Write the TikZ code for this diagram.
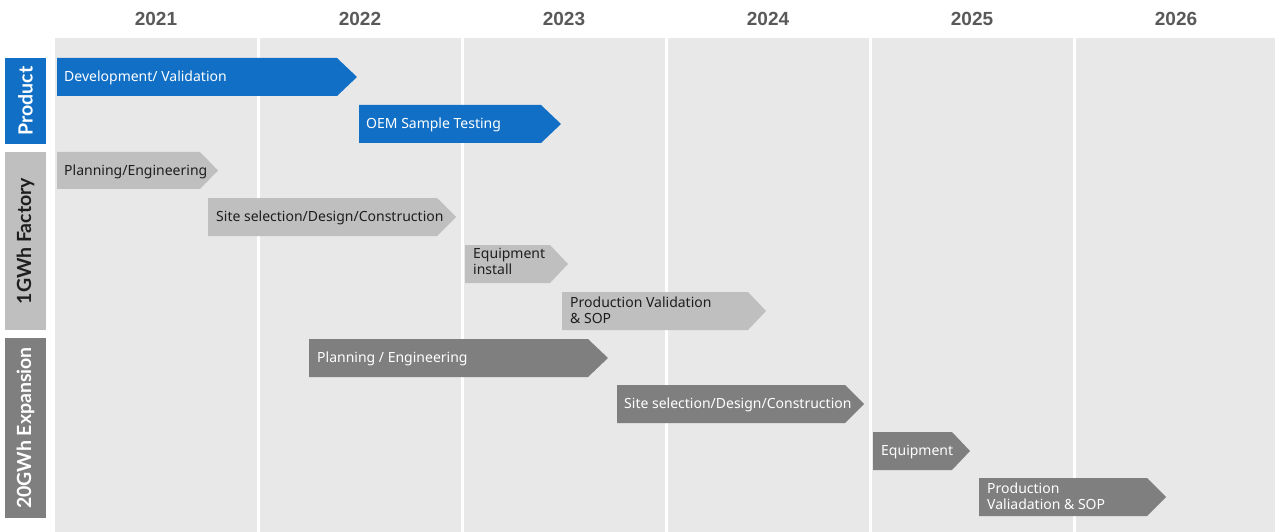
\documentclass[tikz,border=0pt]{standalone}
\usepackage{fontspec}
\setmainfont{Noto Sans}
\newfontfamily\yearfont{Liberation Sans}
\newfontfamily\rowfont{Lato}
\usetikzlibrary{positioning}

\definecolor{planblue}{HTML}{1170C6}
\definecolor{planlight}{HTML}{BFBFBF}
\definecolor{plandark}{HTML}{7F7F7F}
\definecolor{gridbg}{HTML}{E8E8E8}
\definecolor{yeargray}{HTML}{595959}
\definecolor{inkdark}{HTML}{1E1E1E}

\begin{document}
\begin{tikzpicture}[x=1pt, y=-1pt,
	year/.style={font=\yearfont\bfseries\fontsize{19}{19}\selectfont, text=yeargray},
	rowlabel/.style={rotate=90, minimum height=41pt, inner sep=0pt,
		font=\rowfont\bfseries\fontsize{19.5}{19.5}\selectfont},
	bartext/.style={anchor=west, inner sep=0pt, align=left,
		font=\fontsize{14}{16}\selectfont}]
	\useasboundingbox (0,0) rectangle (1275,532);
	\fill[white] (0,0) rectangle (1275,532);
	
	% grid of years
	\fill[gridbg] (55,38) rectangle (1275,532);
	\foreach \s in {258.5, 462.5, 666.5, 870.5, 1074.5}
		\draw[white, line width=3pt] (\s,38) -- (\s,532);
	\node[year] (y2021) at (156,19) {2021};
	\node[year] (y2022) at (360,19) {2022};
	\node[year] (y2023) at (564,19) {2023};
	\node[year] (y2024) at (768,19) {2024};
	\node[year] (y2025) at (972,19) {2025};
	\node[year] (y2026) at (1176,19) {2026};
	
	% row labels
	\node[rowlabel, fill=planblue, text=white, minimum width=86pt]
		(product) at (25.5,101) {Product};
	\node[rowlabel, fill=planlight, text=inkdark, minimum width=178pt]
		(factory) at (25.5,241) {1GWh Factory};
	\node[rowlabel, fill=plandark, text=white, minimum width=180pt]
		(expansion) at (25.5,428) {20GWh Expansion};
	
	% product
	\fill[planblue] (57,58) -- (337,58) -- (357,77) -- (337,96) -- (57,96) -- cycle;
	\node[bartext, text=white] (devval) at (64,78) {Development/ Validation};
	\fill[planblue] (359,105) -- (541,105) -- (561,124) -- (541,143) -- (359,143) -- cycle;
	\node[bartext, text=white] (oem) at (366,125) {OEM Sample Testing};
	
	% 1GWh factory
	\fill[planlight] (57,152) -- (200,152) -- (218,170.5) -- (200,189) -- (57,189) -- cycle;
	\node[bartext, text=inkdark] (plan1) at (64,171.5) {Planning/Engineering};
	\fill[planlight] (208,198) -- (437,198) -- (456,217) -- (437,236) -- (208,236) -- cycle;
	\node[bartext, text=inkdark] (site1) at (216,218) {Site selection/Design/Construction};
	\fill[planlight] (465,245) -- (550,245) -- (568,264) -- (550,283) -- (465,283) -- cycle;
	\node[bartext, text=inkdark] (equip1) at (473,261) {Equipment\\install};
	\fill[planlight] (562,292) -- (748,292) -- (766,311) -- (748,330) -- (562,330) -- cycle;
	\node[bartext, text=inkdark] (prod1) at (570,310) {Production Validation\\\& SOP};
	
	% 20GWh expansion
	\fill[plandark] (309,339) -- (588,339) -- (608,358) -- (588,377) -- (309,377) -- cycle;
	\node[bartext, text=white] (plan2) at (317,359) {Planning / Engineering};
	\fill[plandark] (617,385) -- (845,385) -- (864,404) -- (845,423) -- (617,423) -- cycle;
	\node[bartext, text=white] (site2) at (624,405) {Site selection/Design/Construction};
	\fill[plandark] (873,432) -- (952,432) -- (970,451) -- (952,470) -- (873,470) -- cycle;
	\node[bartext, text=white] (equip2) at (881,452) {Equipment};
	\fill[plandark] (979,478) -- (1147,478) -- (1166,497) -- (1147,516) -- (979,516) -- cycle;
	\node[bartext, text=white] (prod2) at (987,496) {Production\\Valiadation \& SOP};
\end{tikzpicture}
\end{document}
